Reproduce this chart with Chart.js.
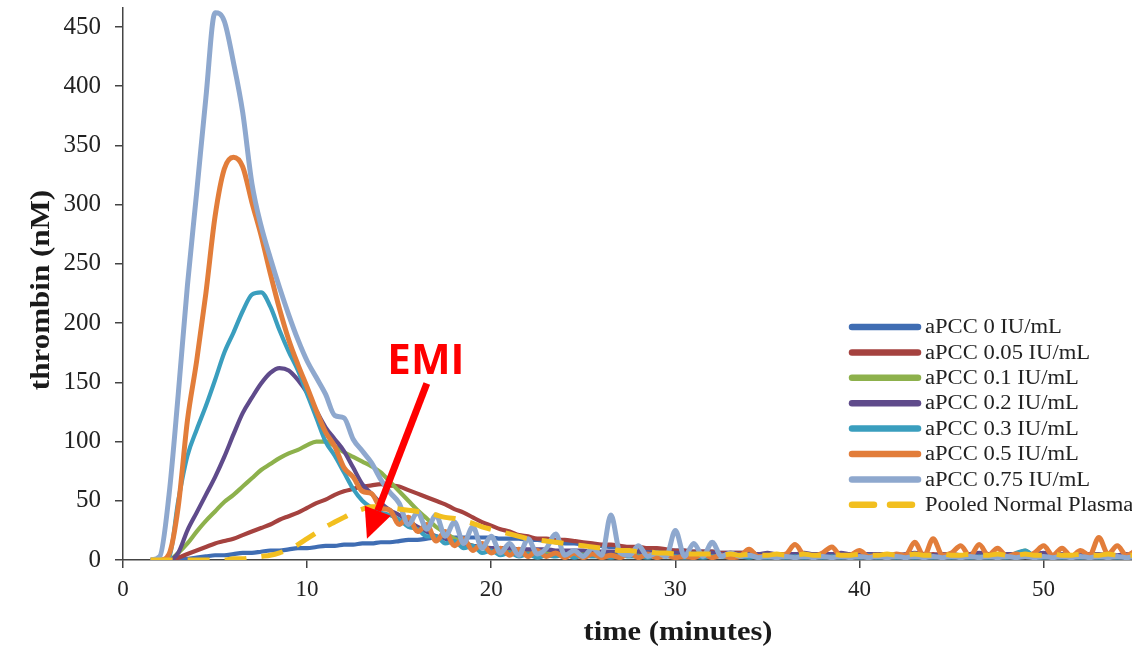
<!DOCTYPE html>
<html>
<head>
<meta charset="utf-8">
<title>thrombin generation</title>
<script src="https://cdn.jsdelivr.net/npm/chart.js@4.4.1/dist/chart.umd.min.js"></script>
<style>
  html, body { margin: 0; padding: 0; background: #fff; }
  #wrap { width: 1132px; height: 650px; }
</style>
</head>
<body>
<div id="wrap"><canvas id="myChart" width="1132" height="650"></canvas></div>
<script>
// time axis (minutes), shared by every curve
const minutes = [
  1.5, 2, 2.5, 3, 3.5, 4, 4.5, 5, 5.5, 6,
  6.5, 7, 7.5, 8, 8.5, 9, 9.5, 10, 10.5, 11,
  11.5, 12, 12.5, 13, 13.5, 14, 14.5, 15, 15.5, 16,
  16.5, 17, 17.5, 18, 18.5, 19, 19.5, 20, 20.5, 21,
  21.5, 22, 22.5, 23, 23.5, 24, 24.5, 25, 25.5, 26,
  26.5, 27, 27.5, 28, 28.5, 29, 29.5, 30, 30.5, 31,
  31.5, 32, 32.5, 33, 33.5, 34, 34.5, 35, 35.5, 36,
  36.5, 37, 37.5, 38, 38.5, 39, 39.5, 40, 40.5, 41,
  41.5, 42, 42.5, 43, 43.5, 44, 44.5, 45, 45.5, 46,
  46.5, 47, 47.5, 48, 48.5, 49, 49.5, 50, 50.5, 51,
  51.5, 52, 52.5, 53, 53.5, 54, 54.5, 55
];

// thrombin (nM)
const apcc0 = [
  0, 0, 0, 1, 1, 2, 3, 4, 4, 5,
  6, 6, 7, 8, 8, 9, 10, 10, 11, 12,
  12, 13, 13, 14, 14, 15, 15, 16, 17, 17,
  18, 19, 19, 19, 19, 19, 19, 19, 18, 18,
  18, 17, 17, 16, 15, 14, 14, 13, 12, 12,
  11, 11, 10, 10, 9, 9, 8, 8, 8, 7,
  7, 7, 6, 6, 6, 6, 5, 5, 5, 5,
  5, 5, 5, 5, 4, 5, 4, 4, 4, 5,
  4, 4, 4, 4, 3, 4, 4, 3, 3, 4,
  3, 3, 3, 4, 3, 3, 3, 3, 3, 3,
  3, 3, 3, 3, 3, 3, 3, 3
];
const apcc005 = [
  0, 0, 0, 2, 5, 8, 11, 14, 16, 18,
  21, 24, 27, 30, 34, 37, 40, 44, 48, 51,
  55, 58, 60, 62, 63, 64, 63, 62, 59, 56,
  53, 50, 47, 43, 40, 36, 32, 29, 26, 24,
  21, 20, 18, 18, 17, 17, 16, 15, 14, 13,
  13, 12, 11, 11, 10, 10, 9, 8, 8, 7,
  7, 7, 6, 6, 6, 6, 5, 5, 5, 5,
  5, 5, 5, 4, 4, 4, 5, 4, 4, 4,
  4, 4, 4, 4, 4, 5, 4, 4, 4, 3,
  4, 4, 3, 3, 4, 3, 3, 3, 3, 3,
  3, 3, 3, 3, 3, 3, 3, 3
];
const apcc01 = [
  0, 0, 0, 6, 14, 24, 33, 41, 49, 55,
  62, 69, 76, 81, 86, 90, 93, 97, 100, 100,
  96, 91, 87, 83, 79, 74, 66, 58, 50, 42,
  35, 28, 23, 18, 15, 12, 11, 10, 9, 8,
  8, 7, 7, 6, 7, 6, 5, 6, 5, 5,
  5, 4, 5, 4, 5, 4, 4, 5, 4, 4,
  4, 4, 4, 5, 4, 4, 4, 3, 4, 4,
  3, 4, 4, 3, 4, 4, 3, 5, 3, 4,
  3, 4, 3, 4, 3, 4, 3, 4, 3, 3,
  4, 3, 4, 3, 5, 8, 3, 3, 4, 3,
  3, 4, 3, 4, 3, 3, 4, 3
];
const apcc02 = [
  0, 0, 0, 6, 25, 40, 55, 70, 87, 106,
  124, 137, 149, 158, 162, 160, 152, 141, 126, 112,
  102, 92, 78, 64, 56, 48, 42, 38, 33, 28,
  24, 20, 18, 15, 13, 12, 11, 10, 10, 10,
  9, 9, 9, 9, 8, 8, 8, 8, 7, 7,
  7, 7, 7, 7, 6, 6, 6, 6, 6, 6,
  6, 6, 5, 6, 5, 6, 5, 6, 5, 5,
  5, 6, 5, 5, 5, 6, 5, 5, 5, 5,
  5, 4, 5, 6, 5, 4, 5, 5, 4, 5,
  6, 5, 4, 5, 5, 4, 5, 6, 4, 5,
  4, 4, 5, 5, 4, 4, 5, 4
];
const apcc03 = [
  0, 0, 2, 50, 88, 110, 130, 152, 175, 192,
  210, 224, 226, 214, 194, 176, 160, 140, 120, 100,
  88, 74, 60, 50, 44, 40, 38, 34, 28, 26,
  20, 20, 14, 16, 10, 12, 6, 8, 4, 6,
  3, 5, 2, 4, 3, 5, 2, 4, 3, 3,
  2, 4, 3, 3, 2, 4, 3, 3, 2, 3,
  2, 3, 3, 2, 3, 2, 3, 2, 3, 2,
  3, 2, 3, 2, 3, 2, 3, 2, 4, 2,
  3, 2, 3, 2, 3, 2, 3, 2, 3, 2,
  3, 2, 3, 2, 6, 8, 3, 2, 3, 2,
  3, 2, 3, 2, 3, 2, 3, 2
];
const apcc05 = [
  0, 0, 5, 45, 118, 168, 225, 290, 330, 340,
  332, 302, 274, 242, 212, 186, 165, 146, 126, 108,
  96, 78, 70, 58, 56, 44, 42, 30, 36, 24,
  30, 16, 24, 12, 18, 8, 14, 6, 10, 4,
  9, 3, 8, 3, 6, 2, 6, 2, 5, 2,
  4, 2, 6, 2, 5, 2, 4, 2, 3, 2,
  5, 2, 4, 2, 3, 9, 3, 3, 4, 5,
  13, 4, 3, 6, 11, 3, 4, 8, 3, 4,
  2, 5, 4, 15, 3, 18, 4, 6, 12, 3,
  13, 4, 10, 3, 5, 3, 6, 12, 4, 10,
  3, 8, 4, 19, 5, 12, 4, 8
];
const apcc075 = [
  0, 3, 55, 140, 232, 310, 390, 462, 455, 420,
  378, 318, 282, 255, 230, 207, 186, 168, 154, 140,
  122, 120, 102, 92, 82, 68, 57, 48, 30, 40,
  26, 38, 20, 32, 14, 28, 10, 20, 6, 14,
  4, 18, 5, 10, 22, 4, 8, 3, 10, 4,
  38, 6, 4, 12, 3, 6, 3, 25, 3, 14,
  3, 15, 3, 6, 3, 4, 2, 3, 2, 3,
  2, 3, 2, 3, 2, 3, 2, 3, 2, 3,
  2, 3, 2, 3, 2, 3, 2, 3, 2, 3,
  2, 3, 2, 3, 2, 3, 2, 3, 2, 3,
  2, 3, 2, 3, 2, 3, 2, 3
];
const pooledNormal = [
  0, 0, 0, 0, 0, 0, 0, 0, 0, 1,
  1, 2, 3, 4, 6, 9, 13, 18, 23, 28,
  32, 36, 40, 43, 45, 45, 44, 43, 42, 41,
  40, 38, 36, 35, 33, 31, 28, 26, 24, 22,
  20, 18, 17, 16, 15, 14, 13, 12, 11, 10,
  9, 8, 8, 7, 7, 6, 6, 5, 5, 5,
  5, 5, 4, 5, 4, 5, 4, 4, 5, 4,
  4, 5, 4, 4, 5, 4, 4, 5, 4, 4,
  5, 4, 4, 5, 4, 4, 5, 4, 4, 5,
  4, 4, 5, 4, 4, 5, 4, 4, 5, 4,
  4, 5, 4, 4, 5, 4, 4, 4
];

const seriesLabels = [
  'aPCC 0 IU/mL', 'aPCC 0.05 IU/mL', 'aPCC 0.1 IU/mL', 'aPCC 0.2 IU/mL',
  'aPCC 0.3 IU/mL', 'aPCC 0.5 IU/mL', 'aPCC 0.75 IU/mL', 'Pooled Normal Plasma'
];
const seriesValues = [apcc0, apcc005, apcc01, apcc02, apcc03, apcc05, apcc075, pooledNormal];
const seriesColors = [
  '#3F6DB3', '#A5423F', '#8DB14C', '#5F4B8B',
  '#3A9EBE', '#E27D3A', '#8EA8CE', '#F2BF1F'
];
const xTicks = [0, 10, 20, 30, 40, 50];
const yTicks = [0, 50, 100, 150, 200, 250, 300, 350, 400, 450];
const xTitle = 'time (minutes)';
const yTitle = 'thrombin (nM)';

// the red "EMI" call-out, in data units
const emiText = 'EMI';
const emiLabelAt = { x: 16.45, y: 167 };
const emiArrowFrom = { x: 16.5, y: 149 };
const emiArrowTo = { x: 13.25, y: 18 };

const serif = "'Liberation Serif', 'Times New Roman', serif";

const datasets = seriesValues.map(function (vals, i) {
  const isDashed = i === seriesValues.length - 1;
  return {
    label: seriesLabels[i],
    data: vals.map(function (v, j) { return { x: minutes[j], y: v }; }),
    borderColor: seriesColors[i],
    backgroundColor: seriesColors[i],
    borderWidth: isDashed ? 5 : (i >= 5 ? 5 : 4.2),
    borderDash: isDashed ? [22, 15] : [],
    pointRadius: 0,
    cubicInterpolationMode: 'monotone',
    fill: false,
    order: seriesValues.length - i
  };
});

// the source picture is a bit wider than tall, so text is stretched sideways
function stretchedText(ctx, text, x, y, sx, sy) {
  ctx.save();
  ctx.translate(x, y);
  ctx.scale(sx, sy);
  ctx.fillText(text, 0, 0);
  ctx.restore();
}

// legend sits inside the plot; arrow, label and axis titles drawn on top
const overlay = {
  id: 'overlay',
  afterDatasetsDraw(chart) {
    const ctx = chart.ctx;
    const xs = chart.scales.x;
    const ys = chart.scales.y;

    const x1 = xs.getPixelForValue(emiArrowFrom.x);
    const y1 = ys.getPixelForValue(emiArrowFrom.y);
    const x2 = xs.getPixelForValue(emiArrowTo.x);
    const y2 = ys.getPixelForValue(emiArrowTo.y);
    const ang = Math.atan2(y2 - y1, x2 - x1);
    const headLen = 30;
    const headHalf = 14;
    const bx = x2 - headLen * Math.cos(ang);
    const by = y2 - headLen * Math.sin(ang);

    ctx.save();
    ctx.strokeStyle = '#FF0000';
    ctx.fillStyle = '#FF0000';
    ctx.lineWidth = 7;
    ctx.beginPath();
    ctx.moveTo(x1, y1);
    ctx.lineTo(bx, by);
    ctx.stroke();
    ctx.beginPath();
    ctx.moveTo(x2, y2);
    ctx.lineTo(bx + headHalf * Math.sin(ang), by - headHalf * Math.cos(ang));
    ctx.lineTo(bx - headHalf * Math.sin(ang), by + headHalf * Math.cos(ang));
    ctx.closePath();
    ctx.fill();

    ctx.font = "bold 42px 'Open Sans', 'DejaVu Sans', sans-serif";
    ctx.textAlign = 'center';
    ctx.textBaseline = 'middle';
    ctx.fillText(emiText, xs.getPixelForValue(emiLabelAt.x), ys.getPixelForValue(emiLabelAt.y));
    ctx.restore();
  },
  afterDraw(chart) {
    const ctx = chart.ctx;
    const area = chart.chartArea;
    const left = 852;
    const top = 327;
    const rowH = 25.4;
    ctx.save();
    ctx.font = '20px ' + serif;
    ctx.textBaseline = 'middle';
    ctx.textAlign = 'left';
    chart.data.datasets.forEach(function (ds, i) {
      const y = top + i * rowH;
      ctx.strokeStyle = ds.borderColor;
      ctx.lineWidth = 6.5;
      ctx.lineCap = 'round';
      ctx.setLineDash(ds.borderDash.length ? [22, 16] : []);
      ctx.beginPath();
      ctx.moveTo(left, y);
      ctx.lineTo(left + 66, y);
      ctx.stroke();
      ctx.setLineDash([]);
      ctx.fillStyle = '#222';
      stretchedText(ctx, ds.label, left + 73, y + 1, 1.13, 1);
    });

    // axis titles
    ctx.fillStyle = '#1a1a1a';
    ctx.font = 'bold 27px ' + serif;
    ctx.textAlign = 'center';
    stretchedText(ctx, xTitle, 678, 633, 1.13, 1);
    ctx.save();
    ctx.translate(42, (area.top + area.bottom) / 2 + 6);
    ctx.rotate(-Math.PI / 2);
    ctx.scale(1.15, 1);
    ctx.fillText(yTitle, 0, 0);
    ctx.restore();
    ctx.restore();
  }
};

let ctx = document.getElementById('myChart');

let myChart = new Chart(ctx, {
  type: 'line',
  data: { datasets: datasets },
  options: {
    responsive: false,
    animation: false,
    events: [],
    layout: { padding: { top: 8, right: 0, bottom: 0, left: 0 } },
    plugins: {
      legend: { display: false },
      tooltip: { enabled: false }
    },
    scales: {
      x: {
        type: 'linear',
        min: 0,
        max: 54.8,
        afterFit: function (scale) {
          scale.height = 90;
          scale.paddingLeft = 0;
          scale.paddingRight = 0;
        },
        afterBuildTicks: function (scale) {
          scale.ticks = xTicks.map(function (v) { return { value: v }; });
        },
        ticks: {
          font: { family: serif, size: 23 },
          color: '#222',
          padding: 8,
          maxRotation: 0
        },
        grid: { drawOnChartArea: false, tickLength: 8, color: '#444', lineWidth: 1.5 },
        border: { color: '#444', width: 1.5 }
      },
      y: {
        min: 0,
        max: 466,
        afterFit: function (scale) {
          scale.width = 123;
          scale.paddingTop = 0;
          scale.paddingBottom = 0;
        },
        afterBuildTicks: function (scale) {
          scale.ticks = yTicks.map(function (v) { return { value: v }; });
        },
        ticks: {
          font: { family: serif, size: 25 },
          color: '#222',
          padding: 14
        },
        grid: { drawOnChartArea: false, tickLength: 8, color: '#444', lineWidth: 1.5 },
        border: { color: '#444', width: 1.5 }
      }
    }
  },
  plugins: [overlay]
});
</script>
</body>
</html>
